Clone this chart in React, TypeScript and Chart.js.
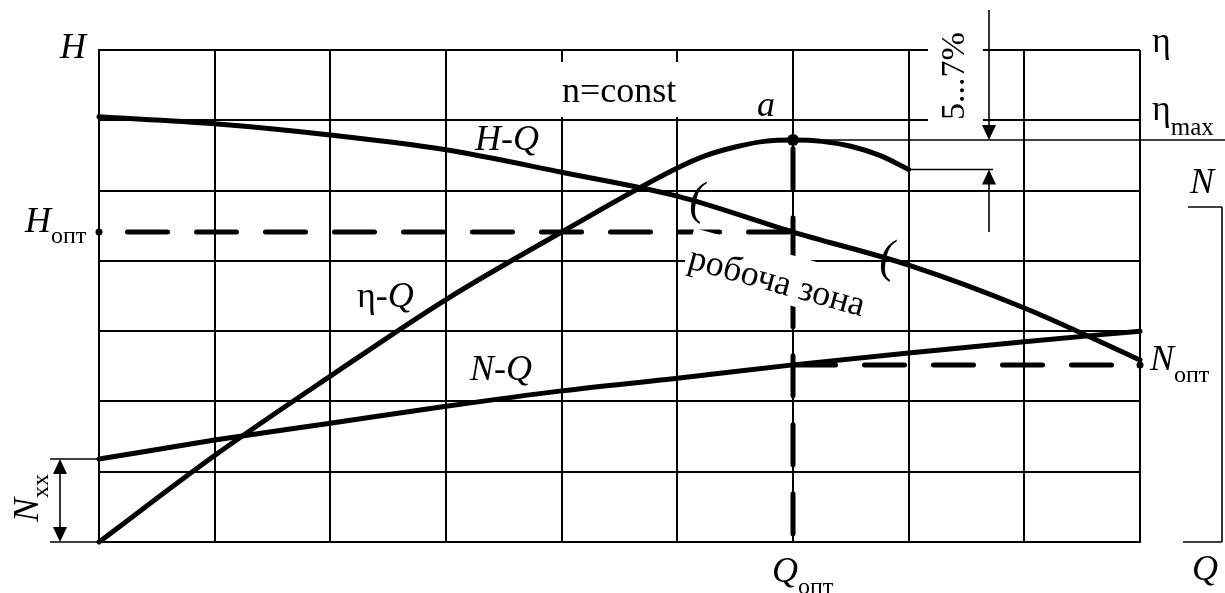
import { useEffect, useRef } from "react";
import { Chart, registerables } from "chart.js";

Chart.register(...registerables);

// Flow rate grid (Q axis, 9 divisions) and the three pump characteristics
const flowQ = [0, 1, 2, 3, 4, 5, 6, 7, 8, 9];
const headH = [6.05, 5.95, 5.79, 5.58, 5.26, 4.92, 4.41, 3.94, 3.33, 2.59];
const powerN = [1.18, 1.45, 1.69, 1.93, 2.15, 2.33, 2.52, 2.69, 2.85, 3.0];
const etaFlow = [0, 1, 2, 3, 4, 5, 5.25, 5.5, 5.75, 6, 6.25, 6.5, 6.75, 7];
const etaValues = [0, 1.23, 2.36, 3.45, 4.41, 5.32, 5.5, 5.62, 5.7, 5.72, 5.7, 5.63, 5.5, 5.3];

// Optimal operating point "a"
const qOpt = 6;
const hOpt = 4.41;
const nOpt = 2.52;
const etaMax = 5.72;
const etaZoneLow = 5.3;
const qMax = 9;
const rowCount = 7;

const SERIF = '"Liberation Serif", "Times New Roman", Times, serif';
const I36 = `italic 36px ${SERIF}`;
const R36 = `36px ${SERIF}`;
const R24 = `24px ${SERIF}`;

const toPoints = (xs: number[], ys: number[]) => xs.map((x, i) => ({ x, y: ys[i] }));

type Part = { t: string; f: string; dy?: number };

function run(ctx: CanvasRenderingContext2D, x: number, y: number, parts: Part[]) {
  let cx = x;
  for (const p of parts) {
    ctx.font = p.f;
    ctx.fillText(p.t, cx, y + (p.dy || 0));
    cx += ctx.measureText(p.t).width;
  }
}

function line(ctx: CanvasRenderingContext2D, x1: number, y1: number, x2: number, y2: number) {
  ctx.beginPath();
  ctx.moveTo(x1, y1);
  ctx.lineTo(x2, y2);
  ctx.stroke();
}

// Filled arrow head with its tip at (x, y), pointing along (dx, dy)
function head(ctx: CanvasRenderingContext2D, x: number, y: number, dx: number, dy: number) {
  const len = 15;
  const half = 7;
  const bx = x - dx * len;
  const by = y - dy * len;
  ctx.beginPath();
  ctx.moveTo(x, y);
  ctx.lineTo(bx - dy * half, by + dx * half);
  ctx.lineTo(bx + dy * half, by - dx * half);
  ctx.closePath();
  ctx.fill();
}

const annotations = {
  id: "pumpAnnotations",
  beforeDatasetsDraw(chart: any) {
    const ctx: CanvasRenderingContext2D = chart.ctx;
    ctx.save();
    ctx.fillStyle = "#fff";
    ctx.fillRect(555, 62, 132, 55);
    ctx.fillRect(928, 44, 55, 82);
    ctx.restore();
  },
  afterDatasetsDraw(chart: any) {
    const ctx: CanvasRenderingContext2D = chart.ctx;
    const xs = chart.scales.x;
    const ys = chart.scales.y;
    const px = (v: number) => xs.getPixelForValue(v);
    const py = (v: number) => ys.getPixelForValue(v);
    const x0 = px(0);
    const xOpt = px(qOpt);
    const yBase = py(0);
    const yEtaMax = py(etaMax);
    const yEtaLow = py(etaZoneLow);
    const yNxx = py(powerN[0]);

    ctx.save();
    ctx.fillStyle = "#000";
    ctx.strokeStyle = "#000";
    ctx.lineWidth = 1.6;
    ctx.textBaseline = "alphabetic";
    ctx.textAlign = "left";

    // Working zone caption on a white band
    ctx.save();
    ctx.translate(777, 281);
    ctx.rotate((15.5 * Math.PI) / 180);
    ctx.font = R36;
    const wz = ctx.measureText("робоча зона").width;
    ctx.fillStyle = "#fff";
    ctx.fillRect(-wz / 2 - 3, -29, wz + 9, 49);
    ctx.fillStyle = "#000";
    ctx.textAlign = "center";
    ctx.textBaseline = "middle";
    ctx.fillText("робоча зона", 0, 2);
    ctx.restore();

    // Limits of the working zone on H-Q
    ctx.font = `italic 46px ${SERIF}`;
    ctx.textAlign = "center";
    ctx.textBaseline = "middle";
    ctx.fillText("(", 697, 202);
    ctx.fillText("(", 887, 260);
    ctx.textAlign = "left";
    ctx.textBaseline = "alphabetic";

    // eta_max level and lower bound of the 5...7% band
    line(ctx, xOpt, yEtaMax, 1225, yEtaMax);
    line(ctx, px(etaFlow[etaFlow.length - 1]), yEtaLow, 993, yEtaLow);
    line(ctx, 989, 10, 989, yEtaMax - 10);
    head(ctx, 989, yEtaMax, 0, 1);
    line(ctx, 989, 232, 989, yEtaLow + 10);
    head(ctx, 989, yEtaLow, 0, -1);

    // N_xx dimension
    line(ctx, 50, yNxx, x0, yNxx);
    line(ctx, 50, yBase, x0, yBase);
    line(ctx, 60, yNxx + 10, 60, yBase - 10);
    head(ctx, 60, yNxx, 0, -1);
    head(ctx, 60, yBase, 0, 1);

    // Right-hand N axis bracket
    line(ctx, 1188, 207, 1222, 207);
    line(ctx, 1222, 207, 1222, yBase);
    line(ctx, 1183, yBase, 1222, yBase);

    // Texts
    run(ctx, 60, 58, [{ t: "H", f: I36 }]);
    run(ctx, 562, 102, [{ t: "n=const", f: R36 }]);
    run(ctx, 757, 116, [{ t: "a", f: I36 }]);
    run(ctx, 475, 150, [{ t: "H-Q", f: I36 }]);
    run(ctx, 357, 307, [
      { t: "η-", f: R36 },
      { t: "Q", f: I36 },
    ]);
    run(ctx, 470, 380, [{ t: "N-Q", f: I36 }]);
    run(ctx, 25, py(hOpt), [
      { t: "H", f: I36 },
      { t: "опт", f: R24, dy: 11 },
    ]);
    run(ctx, 1150, 370, [
      { t: "N", f: I36 },
      { t: "опт", f: R24, dy: 12 },
    ]);
    run(ctx, 772, 582, [
      { t: "Q", f: I36 },
      { t: "опт", f: R24, dy: 12 },
    ]);
    run(ctx, 1192, 580, [{ t: "Q", f: I36 }]);
    run(ctx, 1190, 193, [{ t: "N", f: I36 }]);
    run(ctx, 1152, 52, [{ t: "η", f: R36 }]);
    run(ctx, 1152, 120, [
      { t: "η", f: R36 },
      { t: "max", f: `25px ${SERIF}`, dy: 15 },
    ]);

    // 5...7% (vertical)
    ctx.save();
    ctx.translate(955, 76);
    ctx.rotate(-Math.PI / 2);
    ctx.font = `34px ${SERIF}`;
    ctx.textAlign = "center";
    ctx.textBaseline = "middle";
    ctx.fillText("5...7%", 0, 0);
    ctx.restore();

    // N_xx (vertical)
    ctx.save();
    ctx.translate(38, 522);
    ctx.rotate(-Math.PI / 2);
    run(ctx, 0, 0, [
      { t: "N", f: I36 },
      { t: "xx", f: R24, dy: 10 },
    ]);
    ctx.restore();

    ctx.restore();
  },
};

const curve = (data: { x: number; y: number }[]) => ({
  data,
  borderColor: "#000",
  borderWidth: 5,
  pointRadius: 0,
  fill: false,
  cubicInterpolationMode: "monotone" as const,
  borderCapStyle: "round" as const,
  borderJoinStyle: "round" as const,
  clip: false as const,
});

const dashed = (data: { x: number; y: number }[], offset: number) => ({
  data,
  borderColor: "#000",
  borderWidth: 5,
  pointRadius: 0,
  fill: false,
  tension: 0,
  borderDash: [40, 29],
  borderDashOffset: offset,
  borderCapStyle: "round" as const,
  clip: false as const,
});

const dot = (x: number, y: number, r: number) => ({
  data: [{ x, y }],
  showLine: false,
  pointRadius: r,
  pointBackgroundColor: "#000",
  pointBorderWidth: 0,
  clip: false as const,
});

export default function App() {
  const ref = useRef<HTMLCanvasElement>(null);

  useEffect(() => {
    const canvas = ref.current;
    if (!canvas) return;
    const chart = new Chart(canvas, {
      type: "line",
      data: {
        datasets: [
          curve(toPoints(flowQ, headH)),
          curve(toPoints(etaFlow, etaValues)),
          curve(toPoints(flowQ, powerN)),
          dashed([{ x: 0, y: hOpt }, { x: qOpt, y: hOpt }], 40.5),
          dashed([{ x: qOpt, y: etaMax }, { x: qOpt, y: 0 }], 60.3),
          dashed([{ x: qOpt, y: nOpt }, { x: qMax, y: nOpt }], 66.5),
          dot(qOpt, etaMax, 6),
          dot(0, hOpt, 3.5),
          dot(qMax, nOpt, 3.5),
        ] as any,
      },
      options: {
        responsive: false,
        animation: false,
        devicePixelRatio: 1,
        events: [],
        layout: { padding: { left: 99, right: 85, top: 50, bottom: 51 } },
        plugins: { legend: { display: false }, tooltip: { enabled: false } },
        scales: {
          x: {
            type: "linear",
            min: 0,
            max: qMax,
            ticks: { display: false, stepSize: 1 },
            grid: { color: "#000", lineWidth: 2, drawTicks: false },
            border: { display: true, color: "#000", width: 2 },
          },
          y: {
            type: "linear",
            min: 0,
            max: rowCount,
            ticks: { display: false, stepSize: 1 },
            grid: { color: "#000", lineWidth: 2, drawTicks: false },
            border: { display: true, color: "#000", width: 2 },
          },
        },
      },
      plugins: [annotations],
    });
    return () => chart.destroy();
  }, []);

  return (
    <div style={{ position: "fixed", left: 0, top: 0, width: 1225, height: 593, background: "#fff" }}>
      <canvas ref={ref} width={1225} height={593} style={{ display: "block", width: 1225, height: 593 }} />
    </div>
  );
}
